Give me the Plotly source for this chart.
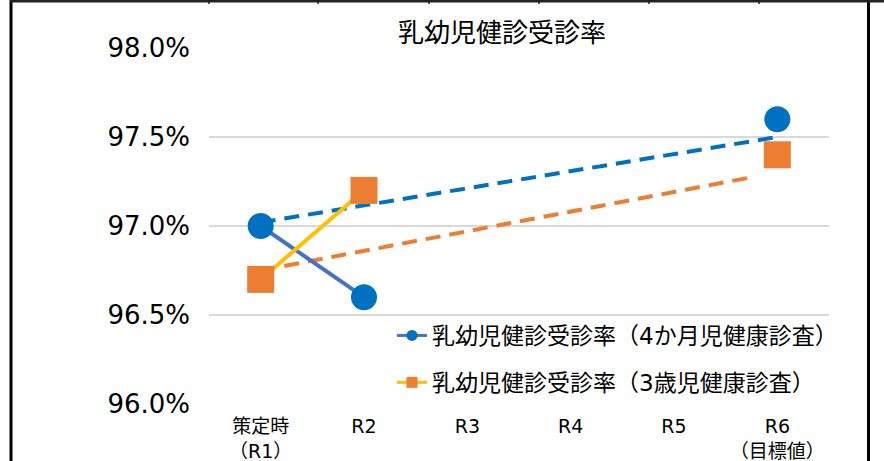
import plotly.graph_objects as go

# ---- data ----
categories = ["策定時<br>（R1）", "R2", "R3", "R4", "R5", "R6<br>（目標値）"]
cat_index = [0, 1, 2, 3, 4, 5]
series_4m_name = "乳幼児健診受診率（4か月児健康診査）"
series_3y_name = "乳幼児健診受診率（3歳児健康診査）"
actual_4m = [97.0, 96.6, None, None, None, None]
actual_3y = [96.7, 97.2, None, None, None, None]
target_4m = [None, None, None, None, None, 97.6]
target_3y = [None, None, None, None, None, 97.4]
trend_4m_x = [0, 5]
trend_4m_y = [97.02, 97.50]
trend_3y_x = [0, 4.76]
trend_3y_y = [96.75, 97.275]
y_ticks = [96.0, 96.5, 97.0, 97.5, 98.0]
y_ticktext = ["96.0%", "96.5%", "97.0%", "97.5%", "98.0%"]

# ---- style ----
W, H = 884, 461
ML, MR, MT, MB = 209, 55, 48, 57
BLUE = "#0070C0"
BLUE_LINE = "#4472C4"
ORANGE = "#ED7D31"
YELLOW = "#FFC000"
FONT = "DejaVu Sans, Noto Sans CJK JP, sans-serif"

fig = go.Figure()
fig.add_trace(go.Scatter(x=trend_4m_x, y=trend_4m_y, mode="lines",
                         line=dict(color=BLUE, width=4, dash="15px,9px"),
                         showlegend=False, hoverinfo="skip"))
fig.add_trace(go.Scatter(x=trend_3y_x, y=trend_3y_y, mode="lines",
                         line=dict(color=ORANGE, width=4, dash="15px,9px"),
                         showlegend=False, hoverinfo="skip"))
fig.add_trace(go.Scatter(x=cat_index, y=actual_4m, mode="lines+markers",
                         line=dict(color=BLUE_LINE, width=4),
                         marker=dict(symbol="circle", size=26, color=BLUE),
                         showlegend=False))
fig.add_trace(go.Scatter(x=cat_index, y=actual_3y, mode="lines+markers",
                         line=dict(color=YELLOW, width=4),
                         marker=dict(symbol="square", size=27, color=ORANGE),
                         showlegend=False))
fig.add_trace(go.Scatter(x=cat_index, y=target_4m, mode="markers",
                         marker=dict(symbol="circle", size=26, color=BLUE),
                         showlegend=False))
fig.add_trace(go.Scatter(x=cat_index, y=target_3y, mode="markers",
                         marker=dict(symbol="square", size=27, color=ORANGE),
                         showlegend=False))
# legend entries
fig.add_trace(go.Scatter(x=[None], y=[None], mode="lines+markers", name=series_4m_name,
                         line=dict(color=BLUE_LINE, width=3),
                         marker=dict(symbol="circle", size=11, color=BLUE),
                         legendgroup="a"))
fig.add_trace(go.Scatter(x=[None], y=[None], mode="lines+markers", name=series_3y_name,
                         line=dict(color=YELLOW, width=3),
                         marker=dict(symbol="square", size=11, color=ORANGE),
                         legendgroup="b"))

pw = W - ML - MR
ph = H - MT - MB


def px2x(px):
    return (px - ML) / pw


def px2y(py):
    return (H - MB - py) / ph


shapes = [
    dict(type="line", xref="paper", yref="paper", x0=px2x(11), x1=px2x(11),
         y0=px2y(0), y1=px2y(H), line=dict(color="black", width=3)),
    dict(type="line", xref="paper", yref="paper", x0=px2x(868.5), x1=px2x(868.5),
         y0=px2y(0), y1=px2y(H), line=dict(color="black", width=3)),
    dict(type="rect", xref="paper", yref="paper", x0=px2x(10), x1=px2x(W),
         y0=px2y(0), y1=px2y(2.5), line=dict(width=0), fillcolor="#222"),
]
for tx in [209, 318, 429, 539, 649, 759]:
    shapes.append(dict(type="line", xref="paper", yref="paper", x0=px2x(tx), x1=px2x(tx),
                       y0=px2y(0), y1=px2y(4), line=dict(color="#222", width=1.5)))

fig.update_layout(
    width=W, height=H,
    margin=dict(l=ML, r=MR, t=MT, b=MB, autoexpand=False),
    paper_bgcolor="white", plot_bgcolor="white",
    font=dict(family=FONT, color="#000"),
    title=dict(text="乳幼児健診受診率", x=502 / W, xanchor="center",
               y=1 - 33 / H, yanchor="middle",
               font=dict(family="Noto Sans CJK JP", size=26, color="#000")),
    xaxis=dict(range=[-0.5, 5.5], tickmode="array", tickvals=cat_index,
               ticktext=categories, showgrid=False, zeroline=False,
               showline=False, ticks="", ticklabelstandoff=9, automargin=False,
               tickfont=dict(size=19, color="#000")),
    yaxis=dict(range=[96.0, 98.0], tickmode="array", tickvals=y_ticks,
               ticktext=y_ticktext, showgrid=True, gridcolor="#D9D9D9", gridwidth=1.5,
               zeroline=False, showline=False, ticks="", ticklabelstandoff=18,
               automargin=False, tickfont=dict(size=26, color="#000")),
    legend=dict(x=px2x(392), xanchor="left", y=px2y(314), yanchor="top",
                bgcolor="rgba(0,0,0,0)", font=dict(size=23, color="#000"),
                traceorder="grouped", tracegroupgap=14, itemwidth=30),
    shapes=shapes,
)

fig.write_html("out.html")
